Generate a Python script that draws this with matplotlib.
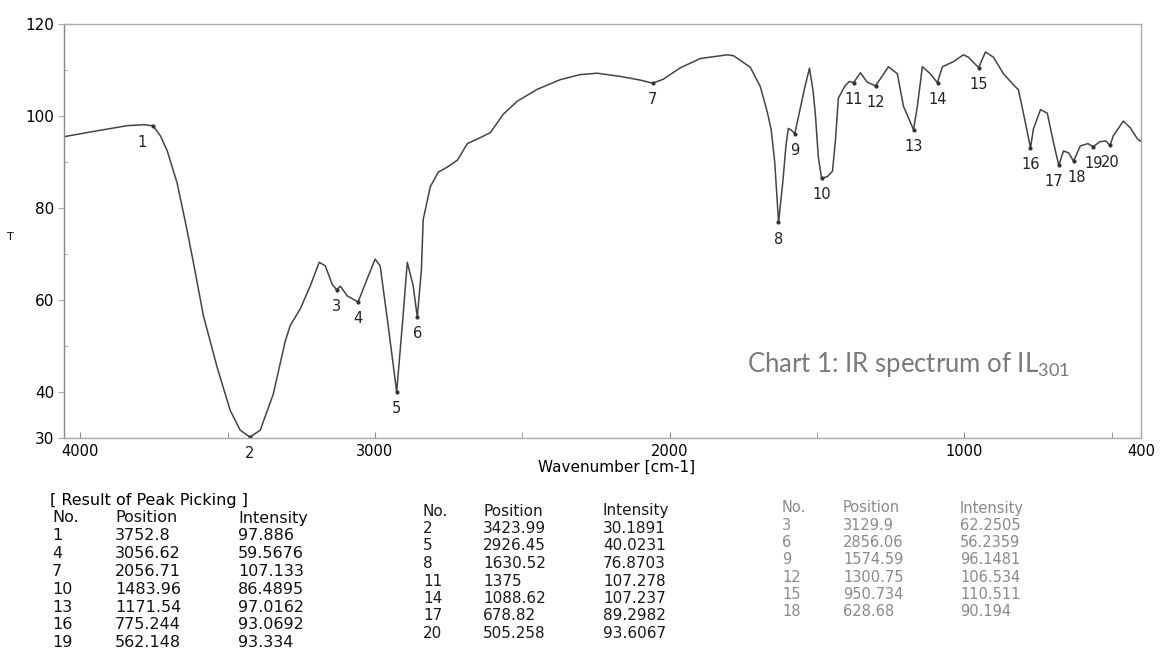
import matplotlib
matplotlib.use("Agg")
import matplotlib.pyplot as plt
from matplotlib.ticker import FixedLocator

plt.rcParams['font.family'] = ['DejaVu Sans']

# spectrum (wavenumber in cm-1, transmittance %T)
wavenumber = [4055, 3950, 3840, 3786, 3753, 3728, 3705, 3671, 3654, 3640,
              3616, 3582, 3535, 3491, 3457, 3424, 3389, 3345, 3304, 3287,
              3253, 3219, 3189, 3168, 3145, 3130, 3117, 3094, 3057, 3026,
              2999, 2982, 2955, 2926, 2905, 2890, 2870, 2856, 2842, 2836,
              2812, 2785, 2754, 2720, 2686, 2642, 2608, 2564, 2517, 2449,
              2371, 2303, 2245, 2167, 2099, 2057, 2021, 1963, 1895, 1804,
              1783, 1726, 1692, 1668, 1655, 1643, 1630, 1615, 1605, 1597,
              1588, 1575, 1556, 1540, 1525, 1513, 1505, 1495, 1484, 1465,
              1447, 1437, 1427, 1405, 1390, 1375, 1352, 1330, 1301, 1257,
              1227, 1206, 1172, 1159, 1142, 1115, 1091, 1074, 1037, 1003,
              986, 951, 928, 901, 867, 833, 816, 799, 775, 765,
              741, 718, 697, 679, 663, 646, 629, 606, 580, 562,
              540, 520, 505, 494, 460, 436, 412, 400]
transmittance = [95.5, 96.7, 97.9, 98.1, 97.886, 95.7, 92.5, 85.4, 80.3, 76.0,
                 68.2, 56.6, 45.3, 36.0, 31.7, 30.19, 31.7, 39.5, 51.1, 54.5,
                 58.1, 63.1, 68.2, 67.4, 63.4, 62.25, 63.0, 60.9, 59.57, 64.6,
                 68.9, 67.4, 54.5, 40.02, 56.0, 68.2, 63.1, 56.24, 66.7, 77.5,
                 84.6, 87.8, 88.9, 90.4, 94.0, 95.3, 96.4, 100.4, 103.2, 105.8,
                 107.9, 109.0, 109.3, 108.6, 107.8, 107.13, 108.0, 110.5, 112.5, 113.3,
                 113.1, 110.6, 106.4, 100.8, 97.0, 90.0, 76.87, 86.0, 93.5, 97.3,
                 97.0, 96.15, 101.8, 106.5, 110.4, 105.5, 100.3, 91.0, 86.49, 86.8,
                 88.0, 94.7, 103.9, 106.5, 107.5, 107.28, 109.4, 107.4, 106.53, 110.7,
                 109.2, 102.1, 97.02, 102.1, 110.7, 109.2, 107.24, 110.7, 111.8, 113.3,
                 112.8, 110.51, 113.9, 112.8, 109.2, 106.8, 105.7, 100.6, 93.07, 97.2,
                 101.4, 100.6, 94.2, 89.30, 92.4, 92.0, 90.19, 93.5, 94.0, 93.33,
                 94.4, 94.6, 93.61, 95.7, 98.9, 97.4, 95.0, 94.5]

# result of peak picking
peak_no = list(range(1, 21))
peak_pos = [3752.8, 3423.99, 3129.9, 3056.62, 2926.45, 2856.06, 2056.71, 1630.52,
            1574.59, 1483.96, 1375, 1300.75, 1171.54, 1088.62, 950.734, 775.244,
            678.82, 628.68, 562.148, 505.258]
peak_int = [97.886, 30.1891, 62.2505, 59.5676, 40.0231, 56.2359, 107.133, 76.8703,
            96.1481, 86.4895, 107.278, 106.534, 97.0162, 107.237, 110.511, 93.0692,
            89.2982, 90.194, 93.334, 93.6067]

x_ticks = [4000, 3000, 2000, 1000, 400]
x_minor = [3500, 2500, 1500, 500]
y_ticks = [120, 100, 80, 60, 40, 30]
y_minor = [110, 90, 70, 50]

W, H = 1160, 648
fig = plt.figure(figsize=(W / 100, H / 100), dpi=100)


def px(x, y):
    return x / W, 1 - y / H


ax = fig.add_axes([64 / W, 1 - 438 / H, (1141 - 64) / W, (438 - 24) / H])
ax.plot(wavenumber, transmittance, color='#444444', lw=1.1)
ax.plot(peak_pos, peak_int, 'o', color='#333333', ms=2)

# label offsets in points (mostly straight below the peak)
for n, p, t in zip(peak_no, peak_pos, peak_int):
    dx = {1: -8, 17: -4, 18: 2}.get(n, 0)
    ax.annotate(str(n), (p, t), xytext=(dx, -12), textcoords='offset points',
                ha='center', va='center', fontsize=10.5, color='#222222',
                annotation_clip=False)

ax.set_xlim(4055, 400)
ax.set_ylim(30, 120)
ax.xaxis.set_major_locator(FixedLocator(x_ticks))
ax.xaxis.set_minor_locator(FixedLocator(x_minor))
ax.yaxis.set_major_locator(FixedLocator(y_ticks))
ax.yaxis.set_minor_locator(FixedLocator(y_minor))
ax.tick_params(axis='x', which='both', direction='in', length=4, color='#888888',
               labelsize=10.5, pad=4)
ax.tick_params(axis='y', which='major', direction='out', length=4, color='#aaaaaa',
               labelsize=11, pad=3)
ax.tick_params(axis='y', which='minor', direction='in', length=3, color='#aaaaaa')
for s in ax.spines.values():
    s.set_color('#aaaaaa')
    s.set_linewidth(1.0)
ax.spines['left'].set_color('#888888')

fig.text(*px(617, 467), 'Wavenumber [cm-1]', ha='center', va='center', fontsize=11)
fig.text(*px(10, 237), 'T', ha='center', va='center', fontsize=8)

fig.text(*px(747, 364), r'Chart 1: IR spectrum of $\mathregular{IL_{301}}$',
         ha='left', va='center', fontsize=18.5, color='#7a7a7a', family='Lato')

# peak table, three column groups
fig.text(*px(50, 500), '[ Result of Peak Picking ]', ha='left', va='center', fontsize=11.5)

groups = [
    dict(start=0, x=(52, 115, 238), y0=518, dy=17.8, color='#111111', size=11.5),
    dict(start=1, x=(423, 483, 603), y0=511, dy=17.5, color='#1a1a1a', size=11),
    dict(start=2, x=(782, 843, 960), y0=508, dy=17.3, color='#8a8a8a', size=10.5),
]
for g in groups:
    xs = g['x']
    for col, head in zip(xs, ['No.', 'Position', 'Intensity']):
        fig.text(*px(col, g['y0']), head, ha='left', va='center',
                 fontsize=g['size'], color=g['color'])
    for r, i in enumerate(range(g['start'], len(peak_no), 3)):
        y = g['y0'] + g['dy'] * (r + 1)
        vals = [str(peak_no[i]), f"{peak_pos[i]:g}", f"{peak_int[i]:g}"]
        for col, v in zip(xs, vals):
            fig.text(*px(col, y), v, ha='left', va='center',
                     fontsize=g['size'], color=g['color'])

fig.savefig('out.png', dpi=100)
